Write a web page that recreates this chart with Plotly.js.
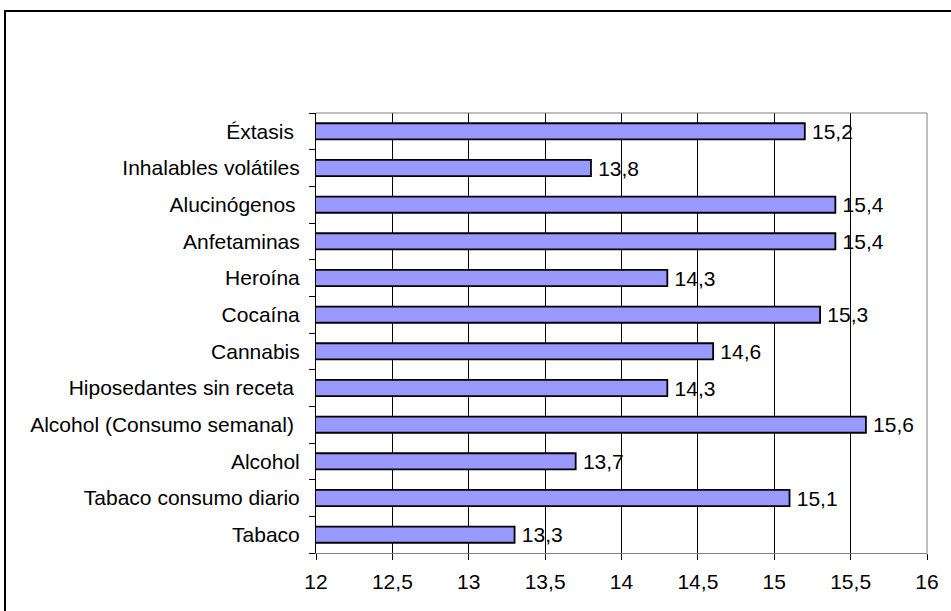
<!DOCTYPE html>
<html><head><meta charset="utf-8">
<script src="https://cdn.plot.ly/plotly-3.0.1.min.js"></script>
<style>
html,body{margin:0;padding:0;background:#fff;}
#chart{position:absolute;left:0;top:0;width:951px;height:611px;}
#frame{position:absolute;left:4px;top:10px;width:960px;height:620px;border-left:2px solid #000;border-top:2px solid #000;pointer-events:none;}
</style></head>
<body>
<div id="chart"></div>
<div id="frame"></div>
<script>
const categories = ["Tabaco","Tabaco consumo diario","Alcohol","Alcohol (Consumo semanal)\u00a0","Hiposedantes sin receta\u00a0","Cannabis","Cocaína","Heroína","Anfetaminas","Alucinógenos\u2009","Inhalables volátiles","Éxtasis\u00a0"];
const values = [13.3,15.1,13.7,15.6,14.3,14.6,15.3,14.3,15.4,15.4,13.8,15.2];
const xTicks = [12,12.5,13,13.5,14,14.5,15,15.5,16];

const font = {family:"Liberation Sans, Arial, sans-serif", size:21, color:"#000"};
Plotly.newPlot("chart",[{
  type:"bar", orientation:"h",
  y:categories, x:values, base:0,
  width:0.44,
  marker:{color:"#9999FF", line:{color:"#000", width:1.8}},
  text:values, texttemplate:"\u2009%{x:.1f}", textposition:"outside",
  constraintext:"none",
  textfont:font, cliponaxis:false, hoverinfo:"skip"
}],{
  width:951, height:611,
  margin:{l:316, r:24, t:113, b:58},
  separators:",.",
  font:font,
  paper_bgcolor:"#fff", plot_bgcolor:"#fff",
  showlegend:false,
  xaxis:{range:[12,16], tickvals:xTicks, showgrid:true, gridcolor:"#000", gridwidth:1,
         zeroline:false, showline:true, linecolor:"#808080", linewidth:1,
         ticks:"outside", ticklen:6, tickcolor:"#000", tickfont:font, ticklabelstandoff:4, fixedrange:true},
  yaxis:{type:"category", showgrid:false, showline:true, linecolor:"#000", linewidth:1,
         ticks:"outside", tickson:"boundaries", ticklen:6, tickcolor:"#000", tickfont:font,
         ticklabelstandoff:11, fixedrange:true},
  shapes:[
    {type:"line", xref:"paper", yref:"paper", x0:0, x1:1, y0:1, y1:1, line:{color:"#808080", width:1}},
    {type:"line", xref:"paper", yref:"paper", x0:1, x1:1, y0:0, y1:1, line:{color:"#808080", width:1}}
  ]
},{staticPlot:true});
</script>
</body></html>
